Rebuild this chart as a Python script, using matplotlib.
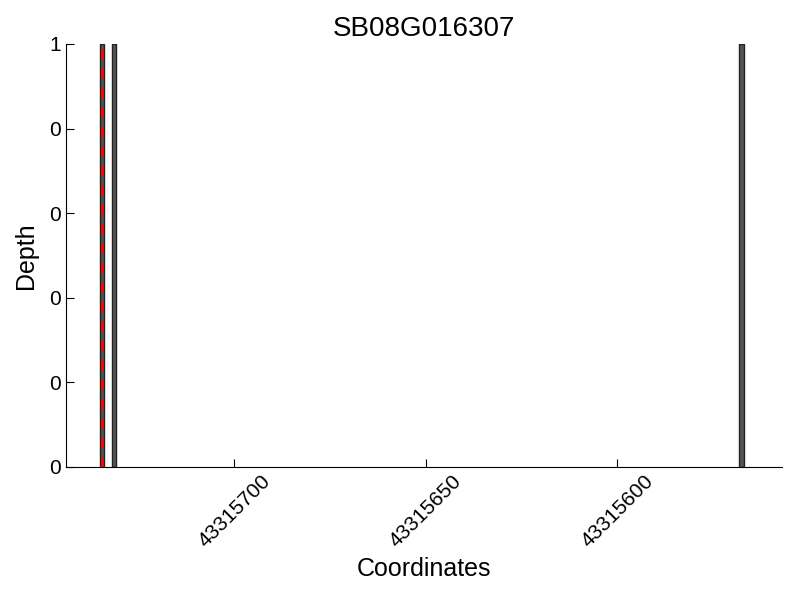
import matplotlib
matplotlib.use('Agg')
from matplotlib import pyplot as plt
from matplotlib.ticker import FormatStrFormatter

plt.rcParams['font.family'] = ['Liberation Sans', 'DejaVu Sans']

title = 'SB08G016307'
positions = [43315734, 43315731, 43315567]  # 读数位置
depths = [1, 1, 1]
marker_pos = 43315734.5  # 红色虚线
x_ticks = [43315700, 43315650, 43315600]
x_range = (43315744, 43315557)

fig = plt.figure(figsize=(8, 6), dpi=100)
ax = fig.add_axes([0.0825, 0.2217, 0.895, 0.705])
ax.bar(positions, depths, width=1.1, align='edge', color='#555555', edgecolor='#222222', linewidth=1)
ax.axvline(marker_pos, color='red', linestyle=(0, (3.5, 3.5)), linewidth=2, zorder=3)
ax.set_xlim(*x_range)
ax.set_ylim(0, 1)
ax.set_xticks(x_ticks)
ax.set_xticklabels([str(t) for t in x_ticks], rotation=45, fontsize=15)
ax.set_yticks([0, 0.2, 0.4, 0.6, 0.8, 1.0])
ax.yaxis.set_major_formatter(FormatStrFormatter('%d'))
ax.tick_params(axis='y', labelsize=15)
ax.tick_params(direction='in', length=6)
ax.spines['top'].set_visible(False)
ax.spines['right'].set_visible(False)
ax.set_xlabel('Coordinates', fontsize=18)
ax.set_ylabel('Depth', fontsize=18, labelpad=8)
ax.set_title(title, fontsize=20)
fig.savefig('out.png')
